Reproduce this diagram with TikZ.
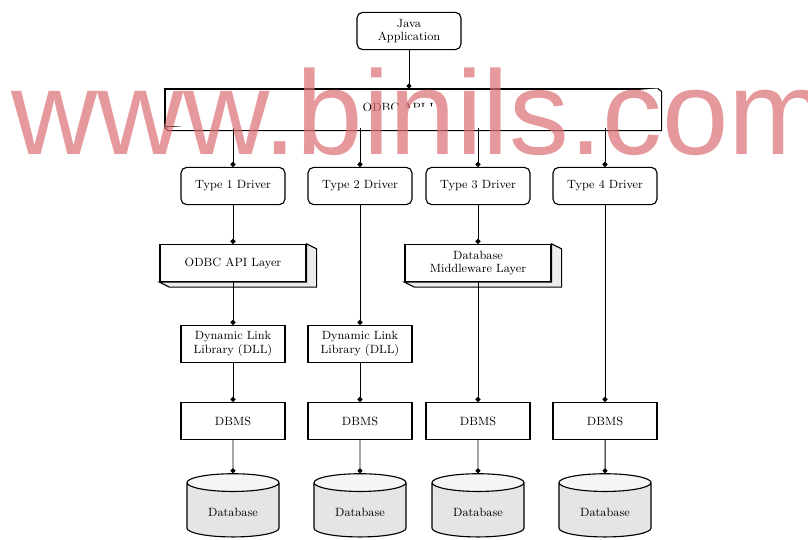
\documentclass[tikz,border=0pt]{standalone}
\usepackage{fontspec}
\newfontfamily\wmfont{Liberation Sans}
\usetikzlibrary{shapes.geometric, arrows.meta, positioning, calc}
\definecolor{wmpink}{RGB}{220,110,115}

\begin{document}
\begin{tikzpicture}[
      x=0.025cm, y=-0.025cm,
      font=\fontsize{8.5}{9.5}\selectfont,
      box/.style={rectangle, draw, line width=0.8pt, align=center, minimum width=2.6cm, minimum height=0.93cm, inner sep=1pt},
      drv/.style={box, rounded corners=4pt},
      layer/.style={box, minimum width=3.65cm},
      side/.style={draw, line width=0.8pt, fill=gray!15},
      db/.style={cylinder, shape border rotate=90, aspect=0.3, draw, line width=0.8pt, minimum width=2.3cm, minimum height=1.58cm, cylinder uses custom fill, cylinder body fill=gray!20, cylinder end fill=gray!8},
      arrow/.style={-{Circle[length=3.5pt]}, line width=0.7pt}
    ]
    \useasboundingbox (0,0) rectangle (808,539);

    \node[drv] (java) at (409,31) {Java\\Application};
    \node[box, minimum width=12.3cm, minimum height=0.95cm] (api) at (411,108) {ODBC API Layer};
    \draw[side, fill=white] (api.north east) -- ++(4,3) -- ($(api.south east)+(4,3)$) -- ($(api.south west)+(4,3)$) -- (api.south west);

    \node[drv] (t1) at (233,186) {Type 1 Driver};
    \node[drv] (t2) at (360,186) {Type 2 Driver};
    \node[drv] (t3) at (478,186) {Type 3 Driver};
    \node[drv] (t4) at (605,186) {Type 4 Driver};

    \node[layer] (odbc) at (233,263) {ODBC API Layer};
    \node[layer] (mid) at (478,263) {Database\\Middleware Layer};
    \foreach \n in {odbc,mid}
      \draw[side] (\n.north east) -- ++(10,5) -- ($(\n.south east)+(10,5)$) -- ($(\n.south west)+(10,5)$) -- (\n.south west) -- (\n.south east) -- cycle;

    \node[box] (dll1) at (233,344) {Dynamic Link\\Library (DLL)};
    \node[box] (dll2) at (360,344) {Dynamic Link\\Library (DLL)};

    \node[box] (dbms1) at (233,421) {DBMS};
    \node[box] (dbms2) at (360,421) {DBMS};
    \node[box] (dbms3) at (478,421) {DBMS};
    \node[box] (dbms4) at (605,421) {DBMS};

    \node[db] (db1) at (233,512) {Database};
    \node[db] (db2) at (360,512) {Database};
    \node[db] (db3) at (478,512) {Database};
    \node[db] (db4) at (605,512) {Database};

    \draw[arrow] (java.south) -- (java.south |- api.north);
    \foreach \t in {t1,t2,t3,t4}
      \draw[arrow] (api.south -| \t.north) -- (\t.north);
    \foreach \a/\b in {t1/odbc, odbc/dll1, dll1/dbms1, dbms1/db1, t2/dll2, dll2/dbms2, dbms2/db2, t3/mid, mid/dbms3, dbms3/db3, t4/dbms4, dbms4/db4}
      \draw[arrow] (\a) -- (\b);

    \node[text=wmpink, opacity=0.7, font=\wmfont\fontsize{85}{85}\selectfont, anchor=base west, inner sep=0pt] (wm) at (11,154) {www.binils.com};
  \end{tikzpicture}
\end{document}
